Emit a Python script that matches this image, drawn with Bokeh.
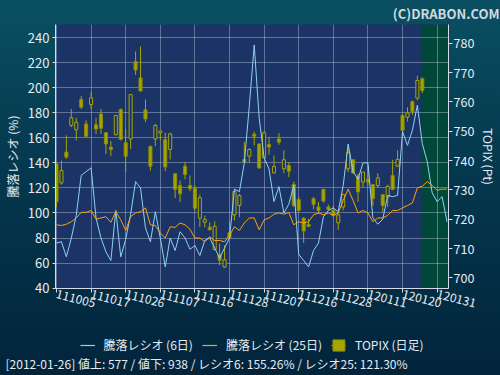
from bokeh.plotting import figure
from bokeh.layouts import column
from bokeh.models import (Range1d, LinearAxis, FixedTicker, BoxAnnotation, Legend,
                          LegendItem, Title, ColumnDataSource)
from bokeh.embed import file_html
from bokeh.resources import INLINE

FONT = "Noto Sans CJK JP"
NAN = float("nan")

# ---------------- data ----------------
tick_labels = ["111005", "111017", "111026", "111107", "111116", "111128",
               "111207", "111216", "111228", "120111", "120120", "120131"]
tick_pos = [0, 7, 14, 21, 28, 35, 42, 49, 56, 63, 70, 77]
left_ticks = [40, 60, 80, 100, 120, 140, 160, 180, 200, 220, 240]
right_ticks = [700, 710, 720, 730, 740, 750, 760, 770, 780]

ratio6 = [76, 77, 65, 80, 98, 130, 133, 136, 96, 80,
          69, 62, 102, 65, 79, 99, 125, 120, 88, 77,
          101, 80, 57, 80, 70, 85, 80, 71, 74, 66,
          78, 80, 72, 64, 72, 80, 119, 117, 140, 185,
          234, 176, 144, 135, 109, 121, 100, 107, 122, 67,
          62, 57, 70, 76, 97, 102, 104, 101, 122, 155,
          133, 127, 140, 140, 96, 91, 95, 114, 113, 114,
          165, 154, 166, 186, 155.26, 141, 116, 109, 113, 93]

ratio25 = [90.5, 90, 91, 93, 96, 100.5, 100.5, 102, 95, 96,
           97, 92.5, 101, 94.5, 86, 97, 100, 101, 104, 90.5,
           90, 84, 80, 89, 88.5, 92, 90.5, 87, 80, 80,
           77, 81, 78, 78, 77, 82, 89, 86, 92, 96,
           96, 86.5, 94.5, 96, 99, 100, 99, 100.5, 90.5, 93,
           92, 93, 98.5, 100, 98.5, 100, 98, 100, 110, 119,
           110, 100, 102, 100, 93, 96, 96, 98, 102, 102,
           104, 106, 108, 120, 121.3, 125, 122, 118, 119, 119]

topix_open = [738.9, 732.4, 742.9, 752.0, 750.5, 760.8, 752.5, 759.1, 752.2, 755.9,
              749.5, 744.6, 748.8, 757.4, 746.1, 747.4, 773.8, 768.2, 757.3, 744.8,
              747.4, 749.5, 747.2, 743.8, 735.5, 731.5, 738.1, 731.5, 730.6, 720.4,
              719.0, 717.3, 709.7, 707.9, 703.7, 715.4, 721.5, 724.7, 740.4, 741.5,
              749.0, 745.7, 741.0, 745.5, 735.8, 747.4, 737.2, 738.3, 731.9, 726.8,
              720.4, 718.3, 727.0, 724.2, 730.2, 724.2, 723.0, 718.8, 724.2, 737.2,
              740.3, 734.7, 732.7, 733.6, 731.8, 731.5, 728.4, 727.6, 734.9, 738.1,
              755.4, 754.8, 760.1, 761.3, 767.9]
topix_close = [725.9, 736.6, 741.2, 754.6, 753.1, 758.2, 748.3, 761.4, 750.8, 751.0,
               745.7, 743.8, 755.4, 747.2, 741.5, 762.5, 770.9, 763.7, 754.2, 738.1,
               752.0, 750.1, 737.8, 749.1, 730.2, 728.7, 735.3, 730.4, 723.8, 727.3,
               720.0, 716.4, 717.6, 706.0, 706.2, 713.7, 729.5, 728.1, 739.5, 743.8,
               748.3, 737.5, 749.5, 744.6, 738.0, 746.3, 740.3, 736.4, 724.7, 723.0,
               716.0, 717.6, 725.1, 723.0, 726.2, 723.4, 721.3, 721.5, 728.4, 742.7,
               735.8, 729.3, 736.1, 732.7, 727.0, 734.1, 724.7, 731.2, 730.1, 740.4,
               750.3, 756.3, 756.7, 767.3, 763.9]
topix_high = [739.0, 740.0, 748.6, 757.6, 754.6, 762.0, 753.7, 763.5, 754.5, 757.6,
              749.5, 746.7, 755.4, 757.8, 750.8, 762.7, 777.2, 778.9, 760.8, 745.2,
              752.5, 750.1, 749.5, 749.5, 735.5, 733.2, 739.6, 734.9, 731.5, 728.4,
              721.3, 719.0, 719.3, 711.7, 711.1, 719.6, 729.8, 728.7, 746.3, 744.2,
              749.9, 745.7, 750.1, 748.0, 741.7, 749.4, 743.5, 739.5, 732.9, 727.6,
              720.7, 720.2, 727.6, 725.9, 730.4, 725.0, 724.7, 722.4, 728.7, 744.2,
              740.3, 735.5, 736.1, 738.3, 731.8, 735.7, 728.4, 731.8, 740.3, 743.5,
              755.9, 758.2, 760.5, 769.0, 768.4]
topix_low = [724.2, 731.8, 740.6, 751.4, 746.9, 757.6, 748.0, 757.6, 749.1, 749.1,
             742.3, 741.5, 748.6, 746.9, 736.1, 744.0, 769.2, 763.7, 753.1, 736.6,
             744.9, 746.9, 736.4, 740.4, 727.2, 725.9, 733.6, 729.6, 723.0, 717.3,
             717.3, 716.2, 709.4, 704.3, 703.4, 713.4, 719.6, 720.7, 739.3, 739.3,
             745.2, 737.2, 740.6, 742.0, 735.7, 745.4, 735.7, 734.4, 724.2, 722.7,
             712.0, 717.3, 723.4, 721.9, 725.6, 723.0, 720.7, 716.4, 723.0, 736.1,
             735.5, 725.9, 731.0, 731.5, 724.7, 731.0, 722.5, 724.2, 730.1, 738.1,
             749.9, 753.3, 755.6, 760.5, 763.0]

legend_labels = ["騰落レシオ (6日)", "騰落レシオ (25日)", "TOPIX (日足)"]
status_text = "[2012-01-26]  値上: 577 / 値下: 938 / レシオ6: 155.26% / レシオ25: 121.30%"
copyright_text = "(C)DRABON.COM"

# ---------------- styles ----------------
PLOT_BG = "#1b3365"
TXT_COL = "#e8ecf2"
AX_COL = "#d6dce8"
CANDLE = "#a6a600"
CANDLE_EDGE = "#8c8c00"
C6 = "#8fd2f2"
C25 = "#ffa20a"

# ---------------- main chart ----------------
p = figure(width=500, height=325, output_backend="svg", toolbar_location=None,
           x_range=Range1d(-0.2, 79.3), y_range=Range1d(39.7, 250.4),
           min_border_left=55, min_border_right=52, min_border_top=24,
           min_border_bottom=37, background_fill_color=PLOT_BG,
           border_fill_alpha=0, outline_line_color=None)

p.title.text = copyright_text
p.title.align = "right"
p.title.vertical_align = "top"
p.title.text_font = FONT
p.title.text_font_size = "13px"
p.title.text_font_style = "bold"
p.title.text_color = "#d2d8e0"
p.title.standoff = 0
p.title.offset = -51

p.extra_y_ranges = {"topix": Range1d(696.4, 786.4)}

# future (shaded) region, drawn beneath the grid
box = BoxAnnotation(left=73.8, fill_color="#00473a", fill_alpha=1.0,
                    line_alpha=0, level="underlay")
p.center = [box] + list(p.center)

p.xgrid.ticker = FixedTicker(ticks=tick_pos)
p.ygrid.ticker = FixedTicker(ticks=left_ticks)
for g in (p.xgrid, p.ygrid):
    g.grid_line_color = "#c4cedf"
    g.grid_line_alpha = 0.42
    g.grid_line_width = 1

# x axis
xa = p.xaxis[0]
xa.ticker = FixedTicker(ticks=tick_pos)
xa.major_label_overrides = {t: lab for t, lab in zip(tick_pos, tick_labels)}
xa.major_label_orientation = -0.25
xa.major_label_text_font = FONT
xa.major_label_text_font_size = "12px"
xa.major_label_text_color = TXT_COL
xa.major_label_standoff = 1
xa.axis_line_color = AX_COL
xa.major_tick_line_color = AX_COL
xa.major_tick_out = 4
xa.major_tick_in = 0
xa.minor_tick_line_color = None

# left axis
ya = p.yaxis[0]
ya.ticker = FixedTicker(ticks=left_ticks)
ya.axis_label = "騰落レシオ (%)"
ya.axis_label_text_font = FONT
ya.axis_label_text_font_style = "normal"
ya.axis_label_text_font_size = "12px"
ya.axis_label_text_color = TXT_COL
ya.axis_label_standoff = 4
ya.major_label_text_font = FONT
ya.major_label_text_font_size = "13px"
ya.major_label_text_color = TXT_COL
ya.major_label_standoff = 3
ya.axis_line_color = AX_COL
ya.major_tick_line_color = AX_COL
ya.major_tick_out = 3
ya.major_tick_in = 0
ya.minor_tick_line_color = None

# right axis
ra = LinearAxis(y_range_name="topix", ticker=FixedTicker(ticks=right_ticks),
                axis_label="TOPIX (Pt)")
ra.axis_label_text_font = FONT
ra.axis_label_text_font_style = "normal"
ra.axis_label_text_font_size = "12px"
ra.axis_label_text_color = TXT_COL
ra.axis_label_standoff = 3
ra.major_label_text_font = FONT
ra.major_label_text_font_size = "12.5px"
ra.major_label_text_color = TXT_COL
ra.major_label_standoff = 1
ra.axis_line_color = AX_COL
ra.major_tick_line_color = AX_COL
ra.major_tick_out = 4
ra.major_tick_in = 0
ra.minor_tick_line_color = None
p.add_layout(ra, "right")

# candles
n = len(topix_open)
xs = list(range(n))
up = [i for i in xs if topix_close[i] >= topix_open[i]]
dn = [i for i in xs if topix_close[i] < topix_open[i]]

src_all = ColumnDataSource(dict(x=xs, high=topix_high, low=topix_low))
src_up = ColumnDataSource(dict(x=up, top=[topix_close[i] for i in up],
                               bottom=[topix_open[i] for i in up]))
src_dn = ColumnDataSource(dict(x=dn, top=[topix_open[i] for i in dn],
                               bottom=[topix_close[i] for i in dn]))

p.segment(x0="x", y0="low", x1="x", y1="high", source=src_all,
          line_color=CANDLE, line_width=1, y_range_name="topix")
p.vbar(x="x", width=0.62, top="top", bottom="bottom", source=src_up,
       fill_color=PLOT_BG, line_color=CANDLE, line_width=1, y_range_name="topix")
p.vbar(x="x", width=0.62, top="top", bottom="bottom", source=src_dn,
       fill_color=CANDLE, line_color=CANDLE_EDGE, line_width=1, y_range_name="topix")

# ratio lines
p.line(list(range(len(ratio6))), ratio6, line_color=C6, line_width=1)
p.line(list(range(len(ratio25))), ratio25, line_color=C25, line_width=1)

# ---------------- footer: legend + status ----------------
f = figure(width=500, height=50, output_backend="svg", toolbar_location=None,
           x_range=Range1d(0, 1), y_range=Range1d(0, 1), min_border=0,
           min_border_bottom=23,
           x_axis_location=None, y_axis_location=None,
           border_fill_alpha=0, background_fill_alpha=0, outline_line_color=None)
f.grid.visible = False

# legend key renderers (hold no drawable points, only supply the key styles)
k6 = f.line(x=[NAN], y=[NAN], line_color=C6, line_width=1.2)
k25 = f.line(x=[NAN], y=[NAN], line_color=C25, line_width=1.2)
kw = f.segment(x0=[NAN], y0=[NAN], x1=[NAN], y1=[NAN], line_color=CANDLE, line_width=1)
kb = f.vbar(x=[NAN], top=[NAN], bottom=[NAN], width=0.5, fill_color=CANDLE,
            line_color=CANDLE_EDGE)

legend = Legend(items=[LegendItem(label=legend_labels[0], renderers=[k6]),
                       LegendItem(label=legend_labels[1], renderers=[k25]),
                       LegendItem(label=legend_labels[2], renderers=[kw, kb])],
                orientation="horizontal", location="top_center",
                background_fill_alpha=0, border_line_alpha=0,
                label_text_color=TXT_COL, label_text_font=FONT,
                label_text_font_size="12px", glyph_width=15, glyph_height=14,
                spacing=9, label_standoff=9, padding=4, margin=7)
f.add_layout(legend)

status = Title(text=status_text, align="left", offset=-50, standoff=0,
               text_font=FONT, text_font_size="12px", text_font_style="normal",
               text_color=TXT_COL)
f.add_layout(status, "below")

layout = column(p, f, spacing=0)
layout.styles = {"background": "linear-gradient(to bottom, #0a5062 0%, #053b51 38%, #01243b 100%)"}

open("out.html", "w").write(file_html(layout, INLINE))
